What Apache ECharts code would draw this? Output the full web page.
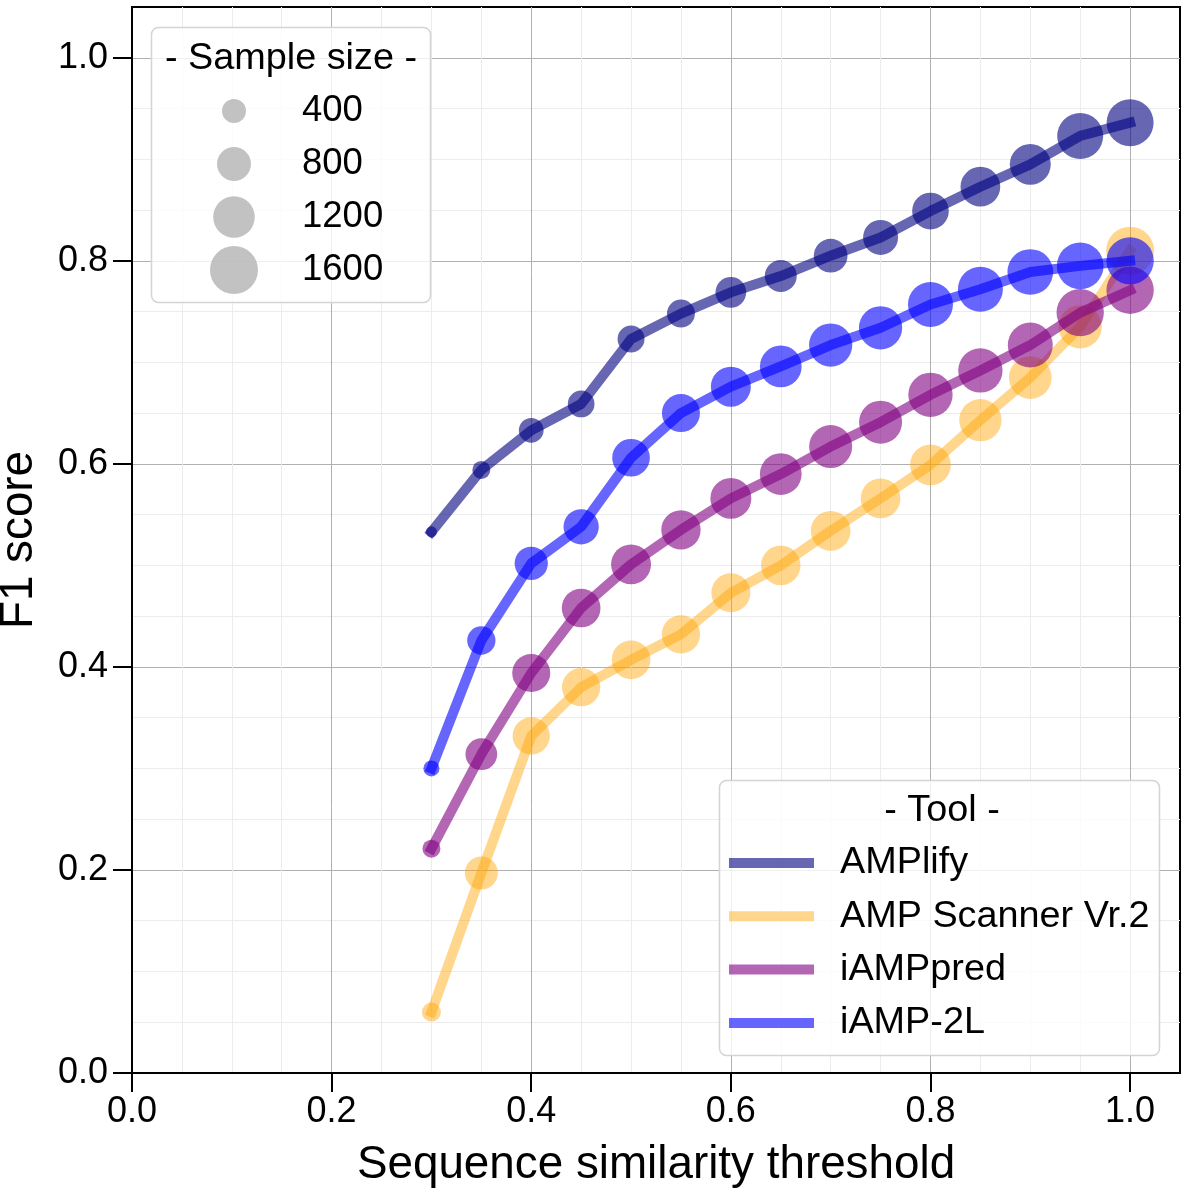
<!DOCTYPE html>
<html><head><meta charset="utf-8">
<script src="https://cdn.jsdelivr.net/npm/echarts@6/dist/echarts.min.js"></script>
<style>html,body{margin:0;padding:0;background:#fff}#c{width:1184px;height:1188px}</style>
</head><body><div id="c"></div>
<script>
// ---- data ----
const thresholds = [0.3, 0.35, 0.4, 0.45, 0.5, 0.55, 0.6, 0.65, 0.7, 0.75, 0.8, 0.85, 0.9, 0.95, 1.0];
const toolNames = ['AMPlify', 'AMP Scanner Vr.2', 'iAMPpred', 'iAMP-2L'];
const f1AMPlify   = [0.533, 0.594, 0.633, 0.659, 0.723, 0.748, 0.769, 0.785, 0.805, 0.823, 0.849, 0.873, 0.895, 0.923, 0.936];
const f1Scanner   = [0.060, 0.197, 0.332, 0.380, 0.407, 0.432, 0.473, 0.500, 0.534, 0.566, 0.599, 0.643, 0.685, 0.735, 0.810];
const f1IAMPpred  = [0.221, 0.314, 0.394, 0.458, 0.501, 0.535, 0.566, 0.590, 0.617, 0.641, 0.668, 0.692, 0.717, 0.749, 0.771];
const f1IAMP2L    = [0.300, 0.426, 0.502, 0.538, 0.606, 0.650, 0.676, 0.696, 0.717, 0.734, 0.757, 0.772, 0.789, 0.795, 0.800];
const nAMPlify    = [85, 225, 425, 495, 505, 545, 655, 710, 790, 850, 935, 1095, 1165, 1470, 1535];
const nScanner    = [250, 755, 965, 1020, 1040, 1020, 1055, 1085, 1095, 1095, 1150, 1245, 1265, 1300, 1600];
const nIAMPpred   = [225, 700, 1005, 1040, 1110, 1075, 1165, 1210, 1285, 1285, 1365, 1365, 1405, 1555, 1555];
const nIAMP2L     = [180, 555, 770, 865, 985, 1005, 1110, 1210, 1300, 1300, 1405, 1405, 1450, 1515, 1555];
const sizeLegendValues = [400, 800, 1200, 1600];
const xTickLabels = [0, 0.2, 0.4, 0.6, 0.8, 1.0];

// ---- style ----
const FONT = '"Liberation Sans", Arial, Helvetica, sans-serif';
const colors = ['rgba(0,0,128,0.6)', 'rgba(255,165,0,0.45)', 'rgba(128,0,128,0.6)', 'rgba(0,0,255,0.6)'];
const SIZE_K = 1.2;
const symSize = n => SIZE_K * Math.sqrt(n);

const f1Sets = [f1AMPlify, f1Scanner, f1IAMPpred, f1IAMP2L];
const nSets = [nAMPlify, nScanner, nIAMPpred, nIAMP2L];

const series = toolNames.map((name, k) => ({
  type: 'line', name,
  xAxisIndex: 0, yAxisIndex: 0,
  data: thresholds.map((t, i) => [t, f1Sets[k][i], nSets[k][i]]),
  symbol: 'circle',
  symbolSize: v => symSize(v[2]),
  showSymbol: true, showAllSymbol: true,
  color: colors[k],
  itemStyle: { color: colors[k], borderWidth: 0 },
  lineStyle: { color: colors[k], width: 10, cap: 'square', join: 'round' },
  emphasis: { disabled: true },
  z: 2 + k,
  clip: false
}));
sizeLegendValues.forEach(v => series.push({
  type: 'scatter', name: String(v), data: [], xAxisIndex: 0, yAxisIndex: 0,
  itemStyle: { color: '#b3b3b3' }
}));

const sizeCenters = [111, 164, 217, 270];
const legends = [{
  data: toolNames, orient: 'vertical', left: 729, top: 843, padding: 0,
  itemWidth: 85, itemHeight: 10, itemGap: 13.3, icon: 'rect', selectedMode: false,
  itemStyle: { borderWidth: 0 },
  textStyle: { fontSize: 37.8, fontFamily: FONT, color: '#000', lineHeight: 40, padding: [0, 0, 0, 21] },
  z: 10
}];
sizeLegendValues.forEach((v, i) => legends.push({
  data: [String(v)], orient: 'vertical', left: 234 - symSize(v) / 2, top: sizeCenters[i] - 25, padding: 0,
  itemWidth: 48, itemHeight: symSize(v), icon: 'circle', selectedMode: false,
  itemStyle: { color: '#b3b3b3', borderWidth: 0 },
  textStyle: { fontSize: 36.5, fontFamily: FONT, color: '#000', lineHeight: 50, padding: [0, 0, 0, 39] },
  z: 10
}));

const majorC = '#b0b0b0', minorC = '#ececec';
const gridColors = [minorC, minorC, minorC, majorC];
const option = {
  animation: false,
  backgroundColor: '#fff',
  textStyle: { fontFamily: FONT },
  grid: [
    { left: 132, right: 4, top: 7, bottom: 115, show: true, borderColor: '#000', borderWidth: 2, containLabel: false, outerBoundsMode: 'none' },
    { left: 132, right: 54, top: 58, bottom: 115, show: false, containLabel: false, outerBoundsMode: 'none' }
  ],
  xAxis: [
    { gridIndex: 0, type: 'value', min: 0, max: 1.05, interval: 0.05,
      axisLine: { show: true, lineStyle: { color: '#000', width: 2 } },
      axisTick: { show: false }, axisLabel: { show: false },
      splitLine: { show: true, showMinLine: false, showMaxLine: false, lineStyle: { color: gridColors, width: 1 } },
      name: 'Sequence similarity threshold', nameLocation: 'middle', nameGap: 69, nameMoveOverlap: false,
      nameTextStyle: { fontSize: 45.8, color: '#000', fontFamily: FONT } },
    { gridIndex: 1, type: 'value', min: 0, max: 1, interval: 0.2,
      axisLine: { show: false },
      axisTick: { show: true, length: 19, lineStyle: { color: '#000', width: 2 } },
      axisLabel: { show: true, fontSize: 36, color: '#000', margin: 21, fontFamily: FONT,
        formatter: v => xTickLabels.some(t => Math.abs(t - v) < 1e-9) ? v.toFixed(1) : '' },
      splitLine: { show: false } }
  ],
  yAxis: [
    { gridIndex: 0, type: 'value', min: 0, max: 1.05, interval: 0.05,
      axisLine: { show: true, lineStyle: { color: '#000', width: 2 } },
      axisTick: { show: false }, axisLabel: { show: false },
      splitLine: { show: true, showMinLine: false, showMaxLine: false, lineStyle: { color: gridColors, width: 1 } },
      name: 'F1 score', nameLocation: 'middle', nameGap: 90, nameMoveOverlap: false,
      nameTextStyle: { fontSize: 45.8, color: '#000', fontFamily: FONT } },
    { gridIndex: 1, type: 'value', min: 0, max: 1, interval: 0.2,
      axisLine: { show: false },
      axisTick: { show: true, length: 19, lineStyle: { color: '#000', width: 2 } },
      axisLabel: { show: true, fontSize: 36, color: '#000', margin: 24, fontFamily: FONT,
        formatter: v => v.toFixed(1) },
      splitLine: { show: false } }
  ],
  legend: legends,
  graphic: [
    { type: 'rect', shape: { x: 151.5, y: 27.5, width: 279, height: 275, r: 7 }, z: 8,
      style: { fill: 'rgba(255,255,255,0.8)', stroke: '#d4d4d4', lineWidth: 1.5 } },
    { type: 'rect', shape: { x: 719.5, y: 780.5, width: 440, height: 275, r: 7 }, z: 8,
      style: { fill: 'rgba(255,255,255,0.8)', stroke: '#d4d4d4', lineWidth: 1.5 } },
    { type: 'text', x: 291, y: 58.5, z: 12,
      style: { text: '- Sample size -', font: '37.8px ' + FONT, fill: '#000', textAlign: 'center', textVerticalAlign: 'middle' } },
    { type: 'text', x: 942, y: 811, z: 12,
      style: { text: '- Tool -', font: '37.8px ' + FONT, fill: '#000', textAlign: 'center', textVerticalAlign: 'middle' } }
  ],
  series
};
const chart = echarts.init(document.getElementById('c'));
chart.setOption(option);
</script>
</body></html>
